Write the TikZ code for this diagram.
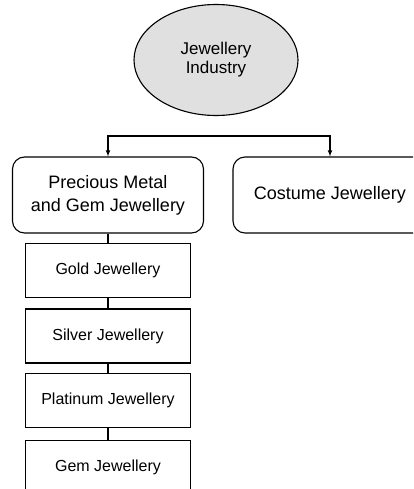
\documentclass[tikz,border=0pt]{standalone}
\usepackage{fontspec}
\setmainfont{Liberation Sans}
\usetikzlibrary{shapes.geometric}
\begin{document}
\begin{tikzpicture}
	[x=1pt,y=-1pt,line width=1.1pt,
	root/.style={ellipse,draw,fill=black!12,inner sep=0pt,minimum width=164pt,minimum height=111pt,align=center,font=\fontsize{17}{19}\selectfont},
	group/.style={rectangle,rounded corners=12pt,draw,minimum width=191pt,minimum height=76pt,align=center,font=\fontsize{18}{23}\selectfont},
	item/.style={rectangle,draw,minimum width=165pt,minimum height=54pt,font=\fontsize{16}{19}\selectfont},>=latex]
	\clip (0,0) rectangle (413,489);
	\node[root,name=ind]at(216,60){Jewellery\\Industry};
	\node[group,name=pm]at(108,195){Precious Metal\\and Gem Jewellery};
	\node[group,name=cj,minimum width=194pt]at(330,195){Costume Jewellery};
	\node[item,name=gold]at(108,270.5){Gold Jewellery};
	\node[item,name=silver]at(108,336){Silver Jewellery};
	\node[item,name=plat]at(108,400.5){Platinum Jewellery};
	\node[item,name=gem]at(108,467.5){Gem Jewellery};
	\coordinate (bar) at (216,136);
	\draw[->](bar) -| (pm);
	\draw[->](bar) -| (cj);
	\draw(pm) -- (gold);
	\draw(gold) -- (silver);
	\draw(silver) -- (plat);
	\draw(plat) -- (gem);
	\end{tikzpicture}
\end{document}
